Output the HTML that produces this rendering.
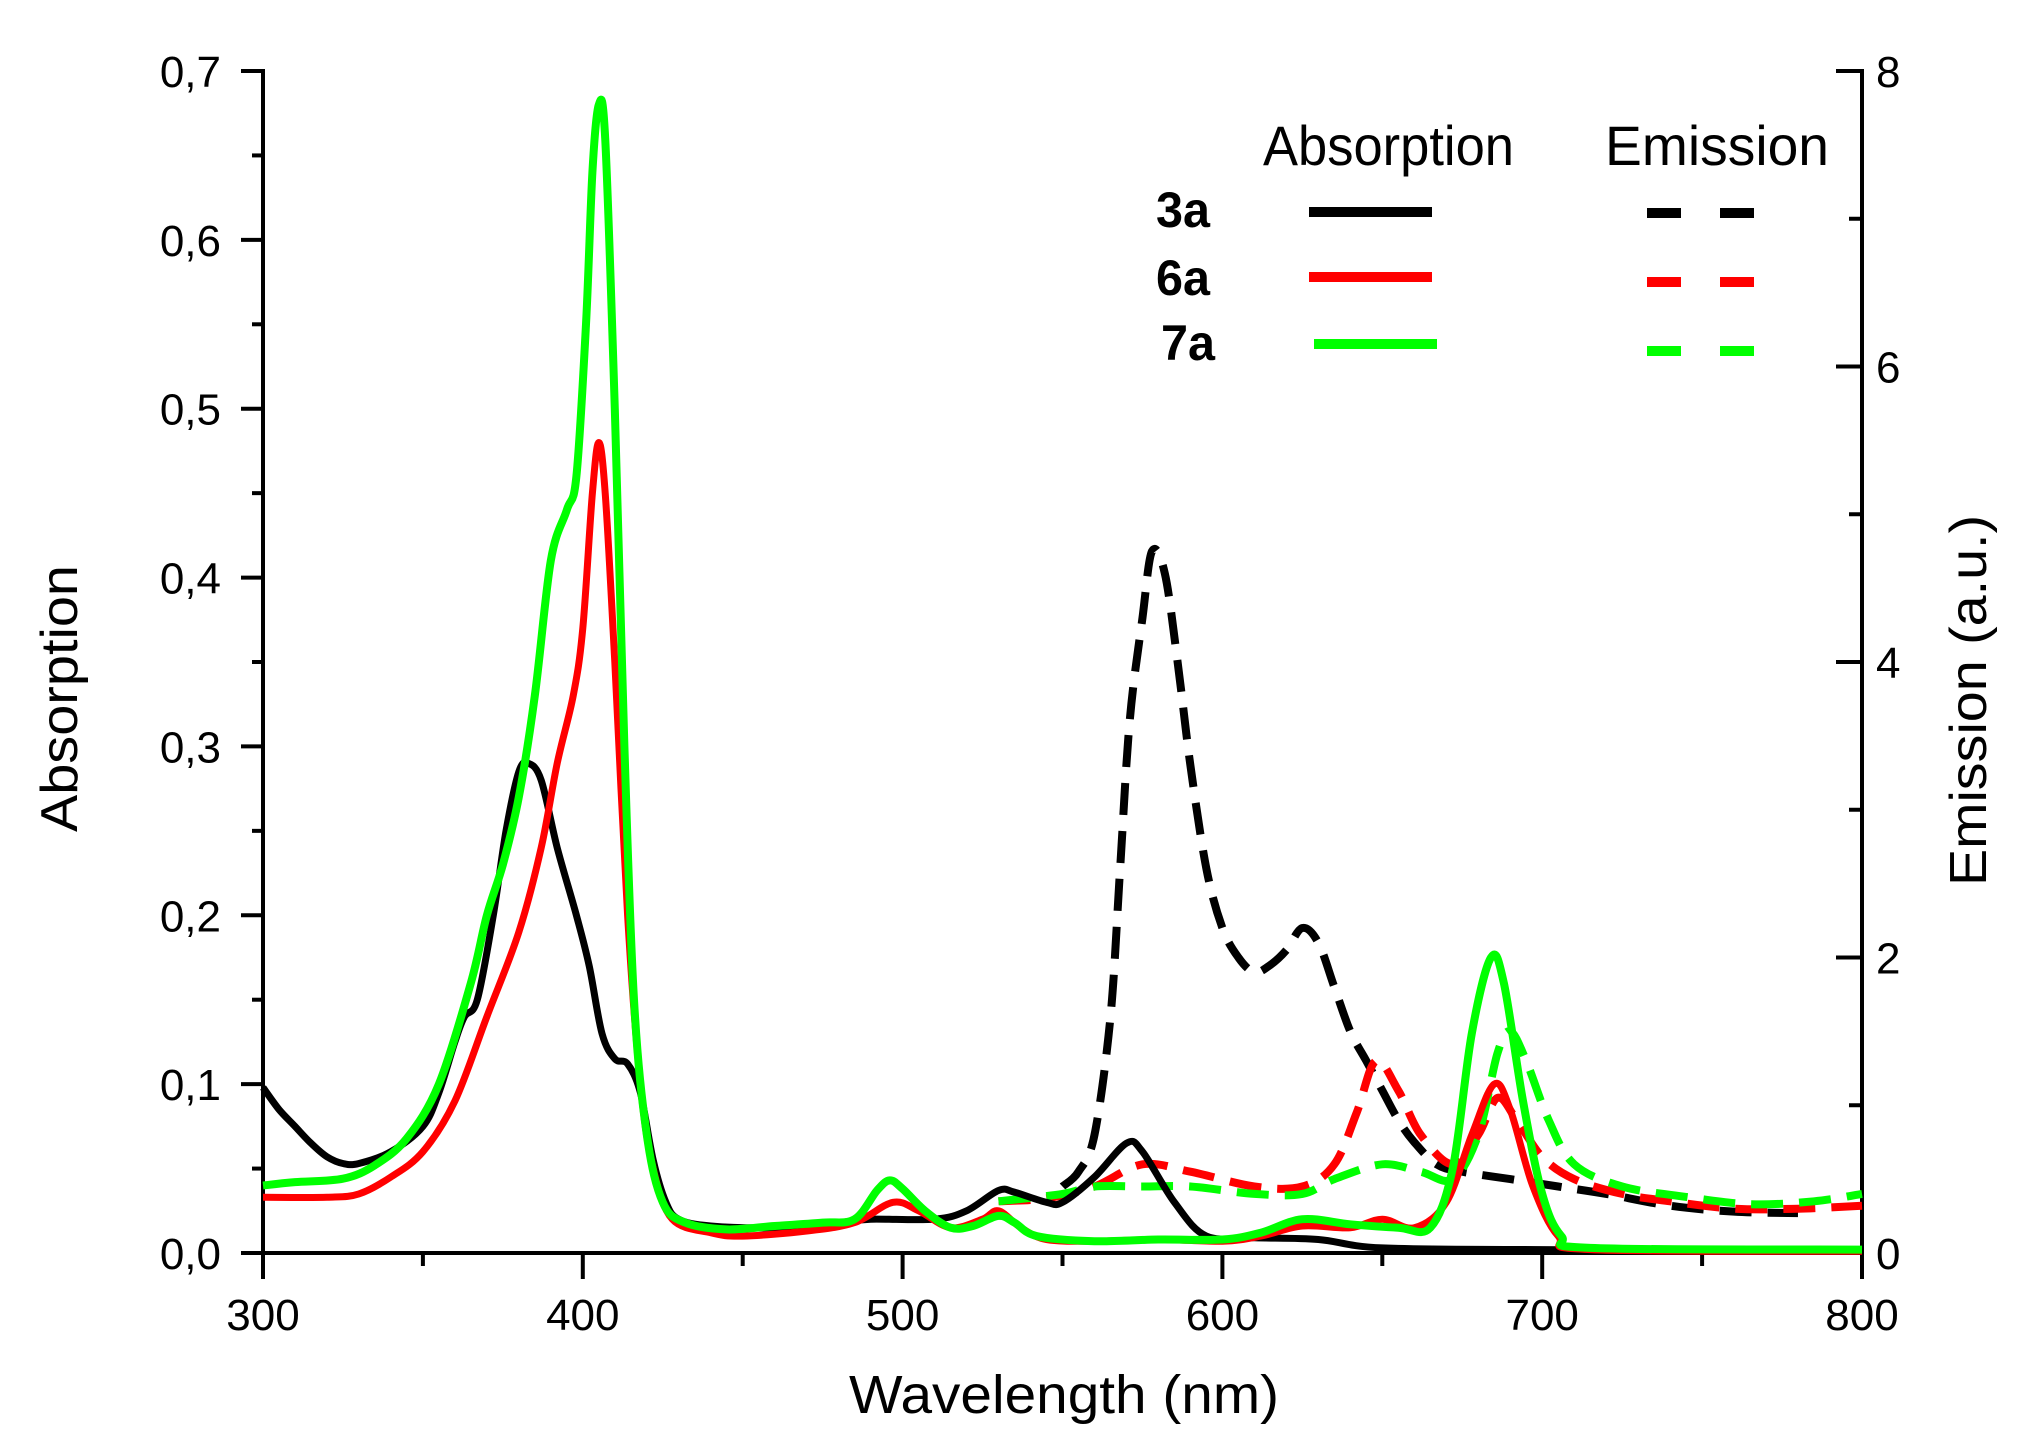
<!DOCTYPE html>
<html><head><meta charset="utf-8"><style>
html,body{margin:0;padding:0;background:#fff}
svg{display:block}
text{font-family:"Liberation Sans",Arial,sans-serif;fill:#000}
</style></head><body>
<svg id="s" width="2042" height="1455" viewBox="0 0 2042 1455" xmlns="http://www.w3.org/2000/svg">
<g id="axes" stroke="#000" stroke-width="4" fill="none"></g>
<g id="curves" fill="none" stroke-linejoin="round"></g>
<g id="labels"></g>
<text x="1263" y="165" font-size="56" textLength="251" lengthAdjust="spacingAndGlyphs">Absorption</text>
<text x="1605" y="165" font-size="56" textLength="224" lengthAdjust="spacingAndGlyphs">Emission</text>
<text x="1156" y="227" font-size="50" font-weight="bold" textLength="54" lengthAdjust="spacingAndGlyphs">3a</text>
<text x="1156" y="295" font-size="50" font-weight="bold" textLength="54" lengthAdjust="spacingAndGlyphs">6a</text>
<text x="1161" y="360" font-size="50" font-weight="bold" textLength="54" lengthAdjust="spacingAndGlyphs">7a</text>
<line x1="1309" y1="212" x2="1432" y2="212" stroke="#000" stroke-width="10"/>
<line x1="1309" y1="277" x2="1432" y2="277" stroke="#ff0000" stroke-width="10"/>
<line x1="1314" y1="344" x2="1437" y2="344" stroke="#00ff00" stroke-width="10"/>
<g stroke-width="10">
<line x1="1647" y1="213" x2="1681" y2="213" stroke="#000"/><line x1="1720" y1="213" x2="1754" y2="213" stroke="#000"/>
<line x1="1647" y1="282" x2="1681" y2="282" stroke="#ff0000"/><line x1="1720" y1="282" x2="1754" y2="282" stroke="#ff0000"/>
<line x1="1647" y1="351" x2="1681" y2="351" stroke="#00ff00"/><line x1="1720" y1="351" x2="1754" y2="351" stroke="#00ff00"/>
</g>
<text x="0" y="0" font-size="52" textLength="267" lengthAdjust="spacingAndGlyphs" transform="translate(77,832) rotate(-90)">Absorption</text>
<text x="0" y="0" font-size="52" textLength="371" lengthAdjust="spacingAndGlyphs" transform="translate(1986,886) rotate(-90)">Emission (a.u.)</text>
<text x="849" y="1413" font-size="54" textLength="430" lengthAdjust="spacingAndGlyphs">Wavelength (nm)</text>
</svg>
<script>
var X0=263,X1=1862,Y0=1253,Y7=71;
function px(w){return X0+(w-300)*(X1-X0)/500;}
function pyA(a){return Y0-a*(Y0-Y7)/0.7;}
function pyE(e){return Y0-e*(Y0-Y7)/8;}
var NS="http://www.w3.org/2000/svg";
function el(p,t,a){var e=document.createElementNS(NS,t);for(var k in a)e.setAttribute(k,a[k]);p.appendChild(e);return e;}
var ax=document.getElementById('axes'),lb=document.getElementById('labels'),cv=document.getElementById('curves');
el(ax,'line',{x1:X0,y1:Y7-2,x2:X0,y2:Y0+2});
el(ax,'line',{x1:X1,y1:Y7-2,x2:X1,y2:Y0+2});
el(ax,'line',{x1:X0-22,y1:Y0,x2:X1+2,y2:Y0});
for(var i=0;i<=14;i++){var v=i*0.05,y=pyA(v),maj=i%2==0;
 el(ax,'line',{x1:X0-(maj?22:11),y1:y,x2:X0,y2:y});
 if(maj){var t=el(lb,'text',{x:221,y:y+16,'font-size':44,'text-anchor':'end'});t.textContent=(v.toFixed(1)).replace('.',',');}}
for(var i=0;i<=8;i++){var y=pyE(i),maj=i%2==0;
 el(ax,'line',{x1:X1-(maj?26:13),y1:y,x2:X1,y2:y});
 if(maj){var t=el(lb,'text',{x:1876,y:y+16,'font-size':44});t.textContent=i;}}
for(var w=300;w<=800;w+=50){var x=px(w),maj=w%100==0;
 el(ax,'line',{x1:x,y1:Y0,x2:x,y2:Y0+(maj?26:13)});
 if(maj){var t=el(lb,'text',{x:x,y:1330,'font-size':44,'text-anchor':'middle'});t.textContent=w;}}
function path(pts,fy){var P=[];for(var i=0;i<pts.length;i+=2)P.push([px(pts[i]),fy(pts[i+1])]);
 var d='M'+P[0][0].toFixed(1)+','+P[0][1].toFixed(1);
 for(var i=0;i<P.length-1;i++){var p0=P[i-1]||P[i],p1=P[i],p2=P[i+1],p3=P[i+2]||p2;
  var c1x=p1[0]+(p2[0]-p0[0])/6,c1y=p1[1]+(p2[1]-p0[1])/6,c2x=p2[0]-(p3[0]-p1[0])/6,c2y=p2[1]-(p3[1]-p1[1])/6;
  d+='C'+c1x.toFixed(1)+','+c1y.toFixed(1)+' '+c2x.toFixed(1)+','+c2y.toFixed(1)+' '+p2[0].toFixed(1)+','+p2[1].toFixed(1);}
 return d;}
var eBlack=[550,0.45,555,0.55,560,0.8,565,1.6,568,2.6,571,3.6,575,4.3,578,4.75,582,4.6,586,4.0,590,3.3,595,2.6,600,2.2,605,2.0,610,1.9,615,1.95,620,2.05,625,2.2,630,2.1,635,1.8,640,1.5,645,1.3,650,1.1,655,0.9,660,0.75,667,0.6,675,0.55,690,0.5,705,0.45,720,0.4,740,0.32,760,0.28,780,0.27];
var eRed=[530,0.35,545,0.37,560,0.45,575,0.6,590,0.55,610,0.45,625,0.45,635,0.6,642,0.95,648,1.3,655,1.1,662,0.8,672,0.6,680,0.8,686,1.05,692,0.9,700,0.65,710,0.5,725,0.4,740,0.35,760,0.3,780,0.3,800,0.32];
var eGreen=[530,0.35,550,0.4,560,0.45,575,0.45,590,0.45,610,0.4,625,0.4,635,0.5,650,0.6,662,0.55,672,0.5,680,0.8,686,1.35,690,1.5,695,1.3,702,0.9,710,0.6,725,0.45,745,0.38,765,0.33,785,0.35,800,0.4];
var aBlack=[300,0.098,305,0.085,310,0.075,315,0.065,320,0.057,325,0.053,330,0.053,340,0.06,350,0.075,355,0.095,360,0.125,363,0.14,367,0.15,372,0.2,376,0.25,380,0.285,383,0.29,387,0.28,392,0.24,398,0.2,402,0.17,406,0.13,410,0.115,414,0.112,418,0.095,422,0.055,426,0.03,430,0.02,440,0.016,460,0.015,480,0.018,490,0.02,510,0.02,520,0.025,530,0.037,535,0.036,545,0.03,550,0.03,560,0.045,570,0.065,575,0.06,585,0.03,595,0.01,610,0.009,630,0.008,650,0.003,700,0.002,800,0.001];
var aRed=[300,0.033,320,0.033,330,0.035,340,0.045,350,0.06,360,0.09,370,0.14,380,0.19,387,0.24,392,0.29,397,0.33,400,0.37,403,0.45,405,0.48,407,0.45,410,0.35,414,0.2,418,0.1,422,0.05,428,0.02,440,0.012,450,0.01,470,0.013,485,0.018,497,0.03,505,0.025,515,0.015,525,0.02,530,0.025,537,0.015,545,0.008,560,0.007,580,0.008,600,0.007,612,0.01,625,0.016,640,0.015,650,0.02,660,0.015,670,0.03,678,0.07,685,0.1,690,0.085,697,0.04,705,0.01,715,0.002,800,0.001];
var aGreen=[300,0.04,310,0.042,325,0.044,335,0.052,345,0.068,355,0.1,365,0.16,370,0.2,375,0.23,380,0.27,385,0.33,390,0.41,395,0.44,398,0.46,401,0.55,403,0.64,405,0.68,407,0.66,410,0.5,413,0.3,416,0.15,420,0.07,425,0.03,432,0.018,445,0.014,460,0.016,475,0.018,485,0.02,492,0.037,496,0.043,500,0.038,507,0.025,515,0.015,522,0.016,530,0.022,535,0.018,542,0.01,560,0.007,580,0.008,600,0.008,612,0.012,625,0.02,640,0.017,655,0.015,665,0.015,672,0.05,678,0.13,684,0.175,688,0.16,694,0.09,700,0.035,706,0.01,715,0.003,800,0.002];
function add(pts,fy,col,dsh,w){var a={d:path(pts,fy),stroke:col,'stroke-width':w};if(dsh){a['stroke-dasharray']='32 16';}el(cv,'path',a);}
add(eBlack,pyE,'#000',1,8);
add(eRed,pyE,'#ff0000',1,8);
add(eGreen,pyE,'#00ff00',1,8);
add(aBlack,pyA,'#000',0,7);
add(aRed,pyA,'#ff0000',0,7);
add(aGreen,pyA,'#00ff00',0,8);
</script>
</body></html>
